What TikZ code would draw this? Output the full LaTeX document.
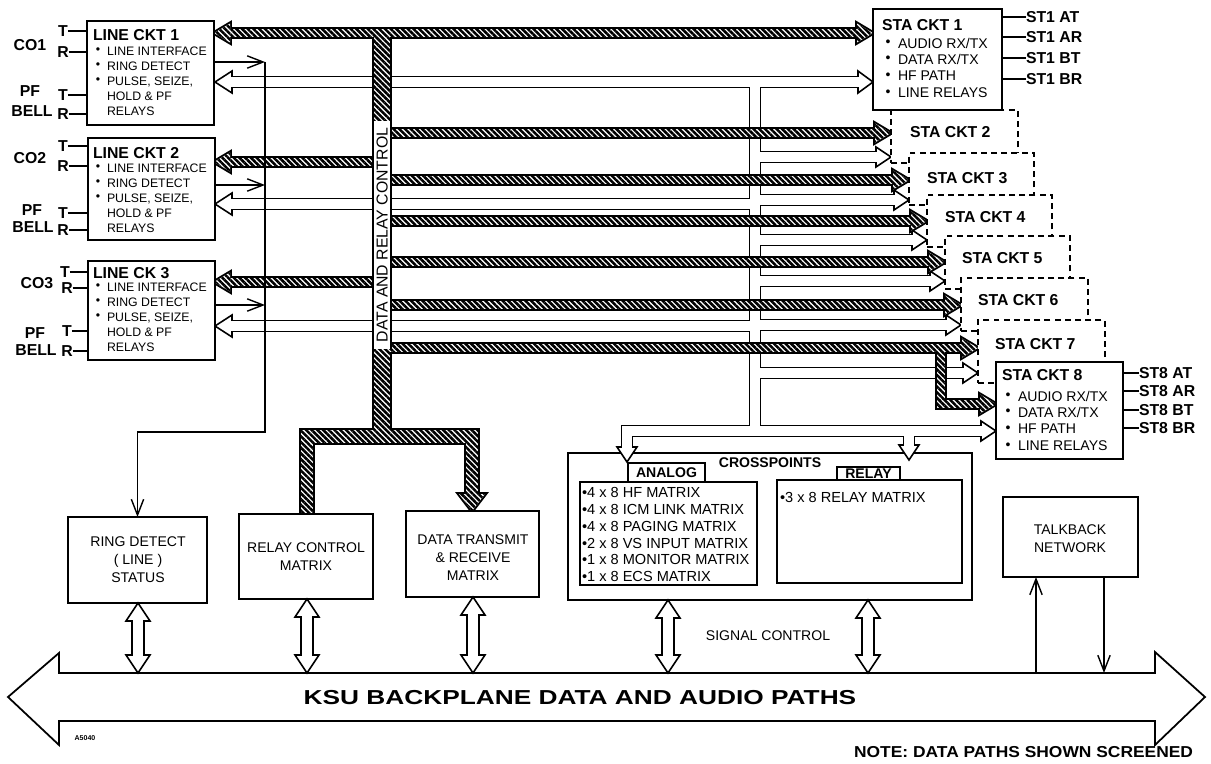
\documentclass[tikz,border=0pt]{standalone}
\usepackage{fontspec}
\setmainfont{Liberation Sans}
\usepackage{graphicx}
\usetikzlibrary{arrows.meta,patterns.meta,fit}
\newcommand\fz[2]{\fontsize{#1}{#2}\selectfont}
\newcommand\HSa[1]{\filldraw[black,line width=2.2pt,line join=miter] #1;}
\newcommand\HSb[1]{\fill[white] #1; \fill[hatchfill] #1;}
\newcommand\HSr[2]{\HS{(389,{#1-4.3}) rectangle ({#2-15},{#1+4.3})}\HS{(#2,#1) -- ({#2-16},{#1-9.5}) -- ({#2-16},{#1+9.5}) -- cycle}}
\newcommand\HSl[1]{\HS{(229,{#1-4.3}) rectangle (374.5,{#1+4.3})}\HS{(214,#1) -- (230,{#1-9.5}) -- (230,{#1+9.5}) -- cycle}}
\newcommand\busall{%
 \HS{(229,28.7) rectangle (858,37.3)}%
 \HS{(214,33) -- (230,23.5) -- (230,42.5) -- cycle}%
 \HS{(873,33) -- (857,23.5) -- (857,42.5) -- cycle}%
 \HS{(373.7,28.7) rectangle (390.3,442.8)}%
 \HSl{162}\HSl{282}%
 \HSr{133}{891}\HSr{180}{909}\HSr{221}{927}\HSr{262}{945}\HSr{305}{961}\HSr{348}{978}%
 \HS{(936.7,344) rectangle (945.3,408.3)}%
 \HS{(940,399.7) rectangle (981,408.3)}%
 \HS{(996,404) -- (980,394.5) -- (980,413.5) -- cycle}%
 \HS{(300.7,430.2) rectangle (478.3,442.8)}%
 \HS{(300.7,436) rectangle (313.3,514)}%
 \HS{(465.7,436) rectangle (478.3,495)}%
 \HS{(472,511) -- (459,494) -- (485,494) -- cycle}%
}
\newcommand\chanall{%
 \draw[chan] (231,82) -- (859,82);
 \draw[chan] (755,82) -- (755,431);
 \draw[chan,line join=miter] (627,448) -- (627,431) -- (982,431);
 \draw[chan] (909,431) -- (909,446);
 \draw[chan] (755,157) -- (877,157);
 \draw[chan] (755,200) -- (895,200);
 \draw[chan] (755,240) -- (913,240);
 \draw[chan] (755,281) -- (931,281);
 \draw[chan] (755,325) -- (947,325);
 \draw[chan] (755,373) -- (964,373);
 \draw[chan] (231,204) -- (755,204);
 \draw[chan] (231,326) -- (755,326);
}
\newcommand\ohr[2]{\filldraw[ohead] (#1,#2) -- ({#1-15},{#2-10}) -- ({#1-15},{#2+10}) -- cycle;}
\newcommand\heads{%
 \filldraw[ohead] (215,82) -- (232,71) -- (232,93) -- cycle;
 \filldraw[ohead] (215,204) -- (232,193) -- (232,215) -- cycle;
 \filldraw[ohead] (215,326) -- (232,315) -- (232,337) -- cycle;
 \filldraw[ohead] (873,82) -- (858,71) -- (858,93) -- cycle;
 \ohr{891}{157}\ohr{909}{200}\ohr{927}{240}\ohr{945}{281}\ohr{961}{325}\ohr{978}{373}\ohr{996}{431}
 \filldraw[ohead] (627,462) -- (617,447) -- (637,447) -- cycle;
 \filldraw[ohead] (909,460) -- (899,445) -- (919,445) -- cycle;
}
\newcommand\dblv[3]{\filldraw[fill=white,line width=0.9pt,line join=miter] (#1,#2) -- ({#1+12},{#2+18}) -- ({#1+6},{#2+18}) -- ({#1+6},{#3-18}) -- ({#1+12},{#3-18}) -- (#1,#3) -- ({#1-12},{#3-18}) -- ({#1-6},{#3-18}) -- ({#1-6},{#2+18}) -- ({#1-12},{#2+18}) -- cycle;}
\newcommand\LCtext[4]{%
 \node[ttl] (#1t) at (93,#2) {#4};
 \node[tx,font=\fz{7}{8}] (#1ba) at (98,#3) {\textbullet};
 \node[tx,font=\fz{7}{8}] (#1bb) at (98,{#3+15}) {\textbullet};
 \node[tx,font=\fz{7}{8}] (#1bc) at (98,{#3+30}) {\textbullet};
 \node[itm] (#1a) at (107,#3) {LINE INTERFACE};
 \node[itm] (#1b) at (107,{#3+15}) {RING DETECT};
 \node[itm] (#1c) at (107,{#3+30}) {PULSE, SEIZE,};
 \node[itm] (#1d) at (107,{#3+45}) {HOLD \& PF};
 \node[itm] (#1e) at (107,{#3+60}) {RELAYS};
}
\newcommand\STAtext[5]{% name, x bullet, title y, first item y, title
 \node[ttl] (#1t) at ({#2-6},#3) {#5};
 \node[tx,font=\fz{8}{9}] (#1ba) at (#2,#4) {\textbullet};
 \node[tx,font=\fz{8}{9}] (#1bb) at (#2,{#4+16.5}) {\textbullet};
 \node[tx,font=\fz{8}{9}] (#1bc) at (#2,{#4+33}) {\textbullet};
 \node[tx,font=\fz{8}{9}] (#1bd) at (#2,{#4+50}) {\textbullet};
 \node[sitm] (#1a) at ({#2+10},#4) {AUDIO RX/TX};
 \node[sitm] (#1b) at ({#2+10},{#4+16.5}) {DATA RX/TX};
 \node[sitm] (#1c) at ({#2+10},{#4+33}) {HF PATH};
 \node[sitm] (#1d) at ({#2+10},{#4+50}) {LINE RELAYS};
}
\tikzset{
 box/.style={draw,line width=1pt,fill=white,inner sep=0pt,outer sep=0pt},
 dbox/.style={box,dash pattern=on 3.4pt off 2.4pt},
 tx/.style={inner sep=0pt,outer sep=0pt,text depth=0pt},
 ttl/.style={tx,anchor=west,font=\fz{9}{10}\bfseries},
 lbl/.style={tx,font=\fz{9}{10}\bfseries},
 itm/.style={tx,anchor=west,font=\fz{7}{8}},
 sitm/.style={tx,anchor=west,font=\fz{8}{9}},
 xitm/.style={tx,anchor=west,font=\fz{8.3}{9}},
 btxt/.style={tx,align=center,font=\fz{8}{10.2}},
 thinl/.style={line width=0.8pt},
 barb/.style={-{Straight Barb[length=9pt,width=7pt,line width=0.8pt]}},
 hatchfill/.style={pattern={Lines[angle=-45,distance=2.3pt,line width=1.45pt]},pattern color=black},
 chanout/.style={line width=7.2pt,black},
 chanin/.style={line width=5.3pt,white},
 ohead/.style={fill=white,draw=black,line width=0.9pt,line join=miter},
}
\begin{document}
\begin{tikzpicture}[x=0.02cm,y=-0.02cm]
\useasboundingbox (0,0) rectangle (1211,764);

% crosspoints outer frame
\node[draw,line width=1pt,inner sep=0pt,fit={(568,453)(972,600)}] (xp) {};

% backplane
\filldraw[fill=white,line width=1pt,line join=miter] (8,697) -- (59,653) -- (59,673) -- (1155,673) -- (1155,652) -- (1205,697) -- (1155,745) -- (1155,721) -- (59,721) -- (59,745) -- cycle;
\node[tx,font=\fz{11.5}{12}\bfseries] (ksu) at (580,697) {\scalebox{1.3}[1]{KSU BACKPLANE DATA AND AUDIO PATHS}};

% open (audio) paths
\tikzset{chan/.style=chanout}\chanall
\heads
\tikzset{chan/.style=chanin}\chanall

% ring detect lines
\coordinate (rdj) at (265,62);
\draw[thinl,barb] (87,62) ++(127,0) -- (rdj);
\draw[thinl,barb] (214,185) -- (265,185);
\draw[thinl,barb] (214,305) -- (265,305);

% hatched data bus
\let\HS\HSa \busall
\let\HS\HSb \busall
\fill[white] (373.7,121) rectangle (390.3,349);
\draw[line width=1.1pt] (372.7,121) -- (372.7,349) (391.3,121) -- (391.3,349);
\node[tx,rotate=90,font=\fz{9}{10}] (dbt) at (382,235) {DATA AND RELAY CONTROL};

% line circuits
\node[box,fit={(87,21)(214,125)}] (lc1) {};
\node[box,fit={(88,138)(215,240)}] (lc2) {};
\node[box,fit={(88,261)(215,360)}] (lc3) {};
\LCtext{lca}{35}{51}{LINE CKT 1}
\LCtext{lcb}{153}{168}{LINE CKT 2}
\LCtext{lcc}{273}{287}{LINE CK 3}

% left labels
\node[lbl] (t1) at (63,31) {T}; \draw[thinl] (t1.east) -- (t1.east -| lc1.west);
\node[lbl] (r1) at (63,52) {R}; \draw[thinl] (r1.east) -- (r1.east -| lc1.west);
\node[lbl] (co1) at (30,45) {CO1};
\node[lbl] (pf1) at (30,91) {PF};
\node[lbl] (bell1) at (32,111) {BELL};
\node[lbl] (t1b) at (63,95) {T}; \draw[thinl] (t1b.east) -- (t1b.east -| lc1.west);
\node[lbl] (r1b) at (63,114) {R}; \draw[thinl] (r1b.east) -- (r1b.east -| lc1.west);

\node[lbl] (t2) at (63,146) {T}; \draw[thinl] (t2.east) -- (t2.east -| lc2.west);
\node[lbl] (r2) at (63,166) {R}; \draw[thinl] (r2.east) -- (r2.east -| lc2.west);
\node[lbl] (co2) at (30,158) {CO2};
\node[lbl] (pf2) at (32,210) {PF};
\node[lbl] (bell2) at (33,227) {BELL};
\node[lbl] (t2b) at (63,213) {T}; \draw[thinl] (t2b.east) -- (t2b.east -| lc2.west);
\node[lbl] (r2b) at (63,230) {R}; \draw[thinl] (r2b.east) -- (r2b.east -| lc2.west);

\node[lbl] (t3) at (65,272) {T}; \draw[thinl] (t3.east) -- (t3.east -| lc3.west);
\node[lbl] (r3) at (67,288) {R}; \draw[thinl] (r3.east) -- (r3.east -| lc3.west);
\node[lbl] (co3) at (37,283) {CO3};
\node[lbl] (pf3) at (35,333) {PF};
\node[lbl] (bell3) at (36,350) {BELL};
\node[lbl] (t3b) at (67,331) {T}; \draw[thinl] (t3b.east) -- (t3b.east -| lc3.west);
\node[lbl] (r3b) at (67,351) {R}; \draw[thinl] (r3b.east) -- (r3b.east -| lc3.west);

% ring detect collector
\node[box,fit={(68,517)(207,603)}] (rd) {};
\draw[thinl,barb] (rdj) -- (265,432) -- (rd.north |- 0,432) -- (rd.north);

% station circuits (dashed stack)
\node[dbox,fit={(891,110)(1018,163)}] (sta2) {};
\node[dbox,fit={(909,153)(1034,205)}] (sta3) {};
\node[dbox,fit={(927,195)(1052,247)}] (sta4) {};
\node[dbox,fit={(945,236)(1070,289)}] (sta5) {};
\node[dbox,fit={(961,278)(1088,331)}] (sta6) {};
\node[dbox,fit={(978,320)(1105,383)}] (sta7) {};
\node[box,fit={(996,362)(1123,459)}] (sta8) {};
\node[box,fit={(873,9)(1002,110)}] (sta1) {};
\node[ttl] (s2t) at (910,132) {STA CKT 2};
\node[ttl] (s3t) at (927,178) {STA CKT 3};
\node[ttl] (s4t) at (945,217) {STA CKT 4};
\node[ttl] (s5t) at (962,258) {STA CKT 5};
\node[ttl] (s6t) at (978,300) {STA CKT 6};
\node[ttl] (s7t) at (995,344) {STA CKT 7};
\STAtext{sa}{888}{25}{43}{STA CKT 1}
\STAtext{sh}{1008}{375}{396}{STA CKT 8}

% station lead labels
\foreach \nm/\yy/\tt in {a1/17/ST1 AT,a2/37/ST1 AR,a3/58/ST1 BT,a4/79/ST1 BR}{
 \node[lbl,anchor=west] (\nm) at (1026,\yy) {\tt};
 \draw[thinl] (\nm.west) -- (\nm.west -| sta1.east);
}
\foreach \nm/\yy/\tt in {b1/373/ST8 AT,b2/391/ST8 AR,b3/410/ST8 BT,b4/428/ST8 BR}{
 \node[lbl,anchor=west] (\nm) at (1139,\yy) {\tt};
 \draw[thinl] (\nm.west) -- (\nm.west -| sta8.east);
}

% lower boxes
\node[btxt] (rdtx) at (138,560) {RING DETECT\\( LINE )\\STATUS};
\node[box,fit={(239,514)(373,599)}] (rc) {};
\node[btxt] (rctx) at (306,557) {RELAY CONTROL\\MATRIX};
\node[box,fit={(406,511)(539,597)}] (dt) {};
\node[btxt] (dttx) at (473,558) {DATA TRANSMIT\\\& RECEIVE\\MATRIX};
\node[box,fit={(1003,497)(1138,577)}] (tb) {};
\node[btxt] (tbtx) at (1070,539) {TALKBACK\\NETWORK};

% crosspoints
\node[tx,font=\fz{8}{9}\bfseries] (cpt) at (770,463) {CROSSPOINTS};
\node[box,fit={(628,463)(705,482)}] (antab) {};
\node[tx,font=\fz{8}{9}\bfseries] (antx) at (antab.center) {ANALOG};
\node[box,fit={(580,482)(757,585)}] (an) {};
\node[box,fit={(837,467)(900,480)}] (rltab) {};
\node[tx,font=\fz{8}{9}\bfseries] (rltx) at (rltab.center) {RELAY};
\node[box,fit={(777,480)(962,583)}] (rl) {};
\node[xitm] (x1) at (582,492) {\textbullet 4 x 8 HF MATRIX};
\node[xitm] (x2) at (582,509) {\textbullet 4 x 8 ICM LINK MATRIX};
\node[xitm] (x3) at (582,526) {\textbullet 4 x 8 PAGING MATRIX};
\node[xitm] (x4) at (582,543) {\textbullet 2 x 8 VS INPUT MATRIX};
\node[xitm] (x5) at (582,559) {\textbullet 1 x 8 MONITOR MATRIX};
\node[xitm] (x6) at (582,576) {\textbullet 1 x 8 ECS MATRIX};
\node[xitm] (x7) at (780,497) {\textbullet 3 x 8 RELAY MATRIX};

% double arrows to backplane
\dblv{138}{603}{673}
\dblv{307}{599}{673}
\dblv{473}{597}{673}
\dblv{668}{600}{673}
\dblv{868}{600}{673}
\node[tx,font=\fz{8}{9}] (sig) at (768,636) {SIGNAL CONTROL};

% talkback
\draw[thinl,barb] (1036,673) -- (tb.south -| 1036,0);
\draw[thinl,barb] (tb.south -| 1104,0) -- (1104,673);

% notes
\node[tx,font=\fz{4}{4}\bfseries] (code) at (85,738) {A5040};
\node[tx,anchor=east,font=\fz{9}{10}\bfseries] (note) at (1193,752) {\scalebox{1.1}[1]{NOTE: DATA PATHS SHOWN SCREENED}};
\end{tikzpicture}
\end{document}
